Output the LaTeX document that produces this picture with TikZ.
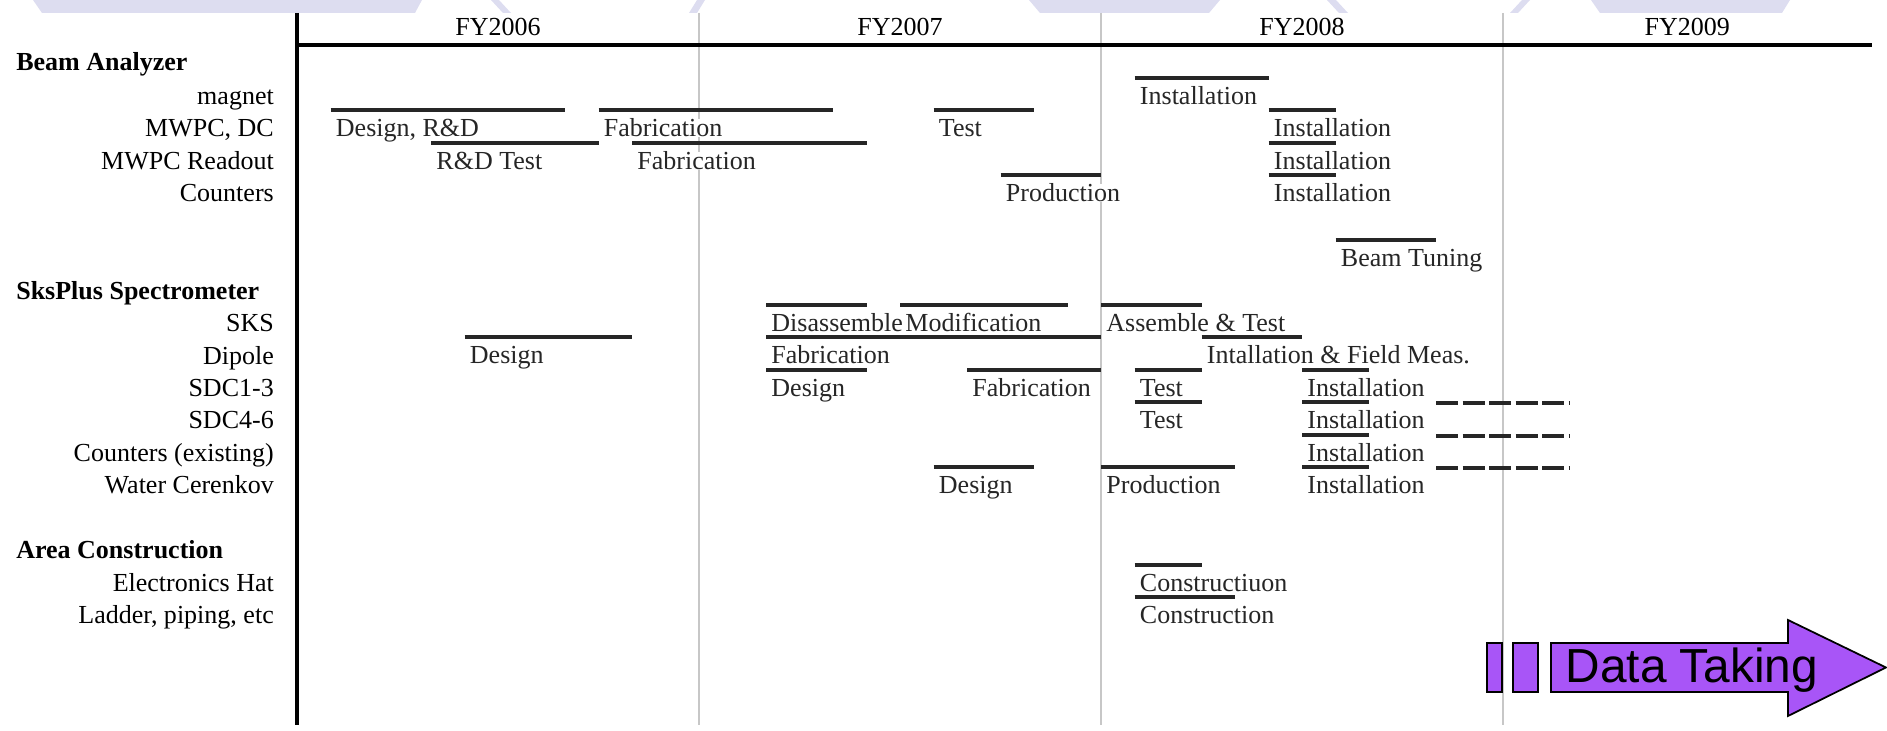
\documentclass[tikz,border=0pt]{standalone}
\usepackage{fontspec}
\setmainfont{Liberation Serif}
\newfontfamily\arialfont{Liberation Sans}
\newcommand{\chartsize}{\fontsize{7.4}{8.9}\selectfont}
\definecolor{datapurple}{RGB}{168,85,247}
\definecolor{banner}{RGB}{221,221,240}
\tikzset{
  taskbar/.style={line width=0.9pt,black!85},
  planbar/.style={taskbar,dash pattern=on 0.22cm off 0.045cm},
  tasklabel/.style={anchor=base west,inner sep=0pt,xshift=1.1pt,yshift=-0.27cm,fill=white},
  rowlabel/.style={anchor=base east,inner sep=0pt},
  grouplabel/.style={anchor=base west,inner sep=0pt,font=\chartsize\bfseries},
  fygrid/.style={black!22,line width=0.35pt},
}

\begin{document}
\begin{tikzpicture}[font=\chartsize]
\useasboundingbox (0,0) rectangle (18.87,-7.31);
% banner remains along the top edge
\fill[banner] (0.33,0) -- (4.22,0) -- (4.15,-0.13) -- (0.42,-0.13) -- cycle;
\fill[banner] (4.91,0) -- (4.99,0) -- (5.11,-0.13) -- (5.03,-0.13) -- cycle;
\fill[banner] (6.97,0) -- (7.05,0) -- (6.97,-0.13) -- (6.89,-0.13) -- cycle;
\fill[banner] (10.29,0) -- (12.20,0) -- (12.09,-0.13) -- (10.40,-0.13) -- cycle;
\fill[banner] (13.27,0) -- (13.36,0) -- (13.48,-0.13) -- (13.39,-0.13) -- cycle;
\fill[banner] (15.22,0) -- (15.30,0) -- (15.18,-0.13) -- (15.10,-0.13) -- cycle;
\fill[banner] (15.91,0) -- (17.90,0) -- (17.82,-0.13) -- (16.00,-0.13) -- cycle;
% row names
\node[grouplabel] (beam) at (0.156,-0.71) {Beam Analyzer};
\node[rowlabel] (magnet) at (2.745,-1.05) {magnet};
\node[rowlabel] (mwpc) at (2.745,-1.37) {MWPC, DC};
\node[rowlabel] (readout) at (2.745,-1.70) {MWPC Readout};
\node[rowlabel] (counters) at (2.745,-2.02) {Counters};
\node[grouplabel] (sksplus) at (0.156,-3.00) {SksPlus Spectrometer};
\node[rowlabel] (sks) at (2.745,-3.32) {SKS};
\node[rowlabel] (dipole) at (2.745,-3.65) {Dipole};
\node[rowlabel] (sdcA) at (2.745,-3.97) {SDC1-3};
\node[rowlabel] (sdcB) at (2.745,-4.29) {SDC4-6};
\node[rowlabel] (cntex) at (2.745,-4.62) {Counters (existing)};
\node[rowlabel] (water) at (2.745,-4.94) {Water Cerenkov};
\node[grouplabel] (area) at (0.156,-5.59) {Area Construction};
\node[rowlabel] (ehat) at (2.745,-5.92) {Electronics Hat};
\node[rowlabel] (ladder) at (2.745,-6.24) {Ladder, piping, etc};
% time axis, one unit = one month from April 2005
\begin{scope}[xshift=2.97cm,x=0.335cm]
\foreach \m in {12,24,36} \draw[fygrid] (\m,-0.13) -- (\m,-7.25);
\draw[line width=1pt] (0,-0.13) -- (0,-7.25);
\draw[line width=1.1pt] (0,-0.45) -- (47,-0.45);
\node[anchor=base] (fy06) at (6,-0.355) {FY2006};
\node[anchor=base] (fy07) at (18,-0.355) {FY2007};
\node[anchor=base] (fy08) at (30,-0.355) {FY2008};
\node[anchor=base] (fy09) at (41.5,-0.355) {FY2009};
% beam analyzer
\draw[taskbar] (25,-0.78) -- (29,-0.78) node[tasklabel,pos=0] (magInst) {Installation};
\draw[taskbar] (1,-1.10) -- (8,-1.10) node[tasklabel,pos=0] (mwpcDes) {Design, R\&D};
\draw[taskbar] (9,-1.10) -- (16,-1.10) node[tasklabel,pos=0] (mwpcFab) {Fabrication};
\draw[taskbar] (19,-1.10) -- (22,-1.10) node[tasklabel,pos=0] (mwpcTest) {Test};
\draw[taskbar] (29,-1.10) -- (31,-1.10) node[tasklabel,pos=0] (mwpcInst) {Installation};
\draw[taskbar] (4,-1.43) -- (9,-1.43) node[tasklabel,pos=0] (rdoTest) {R\&D Test};
\draw[taskbar] (10,-1.43) -- (17,-1.43) node[tasklabel,pos=0] (rdoFab) {Fabrication};
\draw[taskbar] (29,-1.43) -- (31,-1.43) node[tasklabel,pos=0] (rdoInst) {Installation};
\draw[taskbar] (21,-1.75) -- (24,-1.75) node[tasklabel,pos=0] (cntProd) {Production};
\draw[taskbar] (29,-1.75) -- (31,-1.75) node[tasklabel,pos=0] (cntInst) {Installation};
\draw[taskbar] (31,-2.40) -- (34,-2.40) node[tasklabel,pos=0] (tuning) {Beam Tuning};
% sksplus spectrometer
\draw[taskbar] (14,-3.05) -- (17,-3.05) node[tasklabel,pos=0] (sksDis) {Disassemble};
\draw[taskbar] (18,-3.05) -- (23,-3.05) node[tasklabel,pos=0] (sksMod) {Modification};
\draw[taskbar] (24,-3.05) -- (27,-3.05) node[tasklabel,pos=0] (sksAss) {Assemble \& Test};
\draw[taskbar] (5,-3.37) -- (10,-3.37) node[tasklabel,pos=0] (dipDes) {Design};
\draw[taskbar] (14,-3.37) -- (24,-3.37) node[tasklabel,pos=0] (dipFab) {Fabrication};
\draw[taskbar] (27,-3.37) -- (30,-3.37) node[tasklabel,pos=0] (dipInst) {Intallation \& Field Meas.};
\draw[taskbar] (14,-3.70) -- (17,-3.70) node[tasklabel,pos=0] (sdcADes) {Design};
\draw[taskbar] (20,-3.70) -- (24,-3.70) node[tasklabel,pos=0] (sdcAFab) {Fabrication};
\draw[taskbar] (25,-3.70) -- (27,-3.70) node[tasklabel,pos=0] (sdcATest) {Test};
\draw[taskbar] (30,-3.70) -- (32,-3.70) node[tasklabel,pos=0] (sdcAInst) {Installation};
\draw[taskbar] (25,-4.02) -- (27,-4.02) node[tasklabel,pos=0] (sdcBTest) {Test};
\draw[taskbar] (30,-4.02) -- (32,-4.02) node[tasklabel,pos=0] (sdcBInst) {Installation};
\draw[taskbar] (30,-4.35) -- (32,-4.35) node[tasklabel,pos=0] (cntexInst) {Installation};
\draw[taskbar] (19,-4.67) -- (22,-4.67) node[tasklabel,pos=0] (watDes) {Design};
\draw[taskbar] (24,-4.67) -- (28,-4.67) node[tasklabel,pos=0] (watProd) {Production};
\draw[taskbar] (30,-4.67) -- (32,-4.67) node[tasklabel,pos=0] (watInst) {Installation};
\foreach \y in {-4.03,-4.36,-4.68} \draw[planbar] (34,\y) -- (38,\y);
% area construction
\draw[taskbar] (25,-5.65) -- (27,-5.65) node[tasklabel,pos=0] (ehatCon) {Constructiuon};
\draw[taskbar] (25,-5.97) -- (28,-5.97) node[tasklabel,pos=0] (ladCon) {Construction};
\end{scope}
% data taking
\draw[fill=datapurple,line width=0.5pt] (14.87,-6.43) rectangle (15.02,-6.92);
\draw[fill=datapurple,line width=0.5pt] (15.13,-6.43) rectangle (15.38,-6.92);
\draw[fill=datapurple,line width=0.5pt] (15.51,-6.43) -- (17.88,-6.43) -- (17.88,-6.20) -- (18.86,-6.675) -- (17.88,-7.16) -- (17.88,-6.92) -- (15.51,-6.92) -- cycle;
\node[anchor=base west,inner sep=0pt,font=\arialfont\fontsize{13.6}{15}\selectfont] (datataking) at (15.65,-6.83) {Data Taking};
\end{tikzpicture}
\end{document}
